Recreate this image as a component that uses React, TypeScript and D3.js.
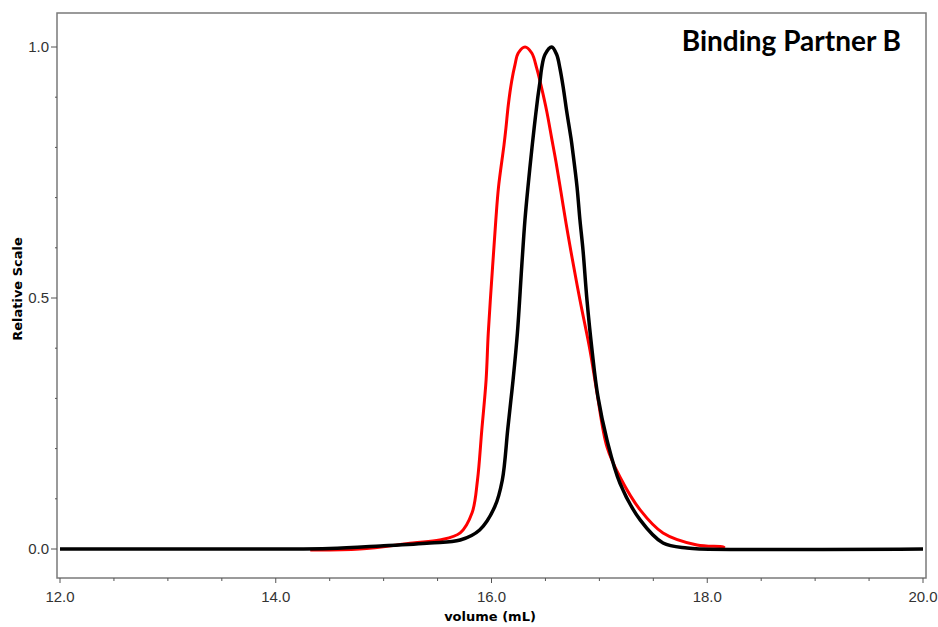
import React, { useRef, useEffect } from 'react';
import * as d3 from 'd3';

// red trace
const redVolume = [14.32, 14.78, 15.27, 15.52, 15.71, 15.82, 15.87, 15.91, 15.95, 15.97, 16.01, 16.04, 16.065, 16.116, 16.134, 16.156, 16.187, 16.218, 16.248, 16.311, 16.373, 16.419, 16.465, 16.512, 16.558, 16.598, 16.644, 16.691, 16.737, 16.82, 16.913, 16.978, 17.071, 17.192, 17.378, 17.59, 17.905, 18.146, 18.16];
const redValue = [-0.002, 0.0, 0.012, 0.018, 0.032, 0.072, 0.137, 0.237, 0.337, 0.43, 0.562, 0.655, 0.721, 0.805, 0.839, 0.885, 0.932, 0.965, 0.988, 1.0, 0.988, 0.958, 0.918, 0.872, 0.818, 0.771, 0.711, 0.649, 0.592, 0.496, 0.396, 0.311, 0.203, 0.143, 0.078, 0.032, 0.008, 0.004, 0.002];

// black trace
const blackVolume = [12.0, 14.0, 14.5, 14.97, 15.43, 15.71, 15.89, 16.03, 16.10, 16.15, 16.18, 16.20, 16.24, 16.28, 16.31, 16.338, 16.378, 16.403, 16.428, 16.45, 16.465, 16.496, 16.558, 16.604, 16.634, 16.666, 16.697, 16.737, 16.755, 16.793, 16.82, 16.848, 16.885, 16.932, 16.987, 17.071, 17.191, 17.378, 17.59, 17.812, 17.933, 20.0];
const blackValue = [0, 0, 0.001, 0.006, 0.012, 0.018, 0.038, 0.084, 0.137, 0.237, 0.297, 0.337, 0.43, 0.562, 0.655, 0.721, 0.805, 0.853, 0.898, 0.932, 0.958, 0.985, 1.0, 0.985, 0.958, 0.918, 0.872, 0.818, 0.789, 0.721, 0.655, 0.596, 0.496, 0.396, 0.303, 0.217, 0.131, 0.058, 0.012, 0.002, 0, 0];

const xTicks = [12, 14, 16, 18, 20];
const yTicks = [0, 0.5, 1.0];
const title = 'Binding Partner B';
const xTitle = 'volume (mL)';
const yTitle = 'Relative Scale';

const App = () => {
  const svgRef = useRef<SVGSVGElement>(null);

  useEffect(() => {
    const width = 938;
    const height = 627;
    const frame = { left: 57, top: 13, right: 926, bottom: 578 };

    const svg = d3.select(svgRef.current);
    svg.selectAll('*').remove();
    svg.attr('width', width).attr('height', height);

    const x = d3.scaleLinear().domain([12, 20]).range([60, 923]);
    const y = d3.scaleLinear().domain([0, 1]).range([549, 47]);

    const axisColor = '#7a7a7a';
    const labelFont = '"Liberation Sans", Arial, sans-serif';
    const boldFont = '"DejaVu Sans", Verdana, sans-serif';

    // plot frame
    svg.append('rect')
      .attr('x', frame.left)
      .attr('y', frame.top)
      .attr('width', frame.right - frame.left)
      .attr('height', frame.bottom - frame.top)
      .attr('fill', 'none')
      .attr('stroke', axisColor)
      .attr('stroke-width', 1.5);

    // x ticks, minor every 0.5
    svg.append('g')
      .selectAll('line')
      .data(d3.range(12, 20.01, 0.5))
      .enter().append('line')
      .attr('x1', d => x(d))
      .attr('x2', d => x(d))
      .attr('y1', frame.bottom)
      .attr('y2', d => frame.bottom + (xTicks.includes(d) ? 5 : 3))
      .attr('stroke', '#555')
      .attr('stroke-width', 1);

    svg.append('g')
      .selectAll('text')
      .data(xTicks)
      .enter().append('text')
      .attr('x', d => x(d))
      .attr('y', 602)
      .attr('text-anchor', 'middle')
      .attr('font-family', labelFont)
      .attr('font-size', 15)
      .attr('fill', '#333')
      .text(d => d.toFixed(1));

    // y ticks, minor every 0.1
    svg.append('g')
      .selectAll('line')
      .data(d3.range(0, 1.001, 0.1))
      .enter().append('line')
      .attr('x1', frame.left)
      .attr('x2', (d, i) => frame.left - (i % 5 === 0 ? 6 : 2))
      .attr('y1', d => y(d))
      .attr('y2', d => y(d))
      .attr('stroke', '#555')
      .attr('stroke-width', 1);

    svg.append('g')
      .selectAll('text')
      .data(yTicks)
      .enter().append('text')
      .attr('x', 49)
      .attr('y', d => y(d))
      .attr('dy', '0.36em')
      .attr('text-anchor', 'end')
      .attr('font-family', labelFont)
      .attr('font-size', 15)
      .attr('fill', '#333')
      .text(d => d.toFixed(1));

    const line = d3.line<[number, number]>()
      .x(d => x(d[0]))
      .y(d => y(d[1]))
      .curve(d3.curveCatmullRom.alpha(0.5));

    const redData = redVolume.map((v, i) => [v, redValue[i]] as [number, number]);
    const blackData = blackVolume.map((v, i) => [v, blackValue[i]] as [number, number]);

    svg.append('path')
      .datum(redData)
      .attr('d', line)
      .attr('fill', 'none')
      .attr('stroke', '#ff0000')
      .attr('stroke-width', 3)
      .attr('stroke-linejoin', 'round');

    svg.append('path')
      .datum(blackData)
      .attr('d', line)
      .attr('fill', 'none')
      .attr('stroke', '#000')
      .attr('stroke-width', 3.5)
      .attr('stroke-linejoin', 'round');

    // titles
    svg.append('text')
      .attr('x', 901)
      .attr('y', 51)
      .attr('text-anchor', 'end')
      .attr('font-family', 'Lato, "Open Sans", sans-serif')
      .attr('font-weight', 'bold')
      .attr('font-size', 28)
      .attr('fill', '#000')
      .text(title);

    svg.append('text')
      .attr('x', 490)
      .attr('y', 621)
      .attr('text-anchor', 'middle')
      .attr('font-family', boldFont)
      .attr('font-weight', 'bold')
      .attr('font-size', 13)
      .attr('fill', '#000')
      .text(xTitle);

    svg.append('text')
      .attr('transform', 'translate(22,289) rotate(-90)')
      .attr('text-anchor', 'middle')
      .attr('font-family', boldFont)
      .attr('font-weight', 'bold')
      .attr('font-size', 13)
      .attr('fill', '#000')
      .text(yTitle);
  }, []);

  return (
    <svg ref={svgRef} style={{ position: 'absolute', left: 0, top: 0, background: '#fff' }}></svg>
  );
};

export default App;
